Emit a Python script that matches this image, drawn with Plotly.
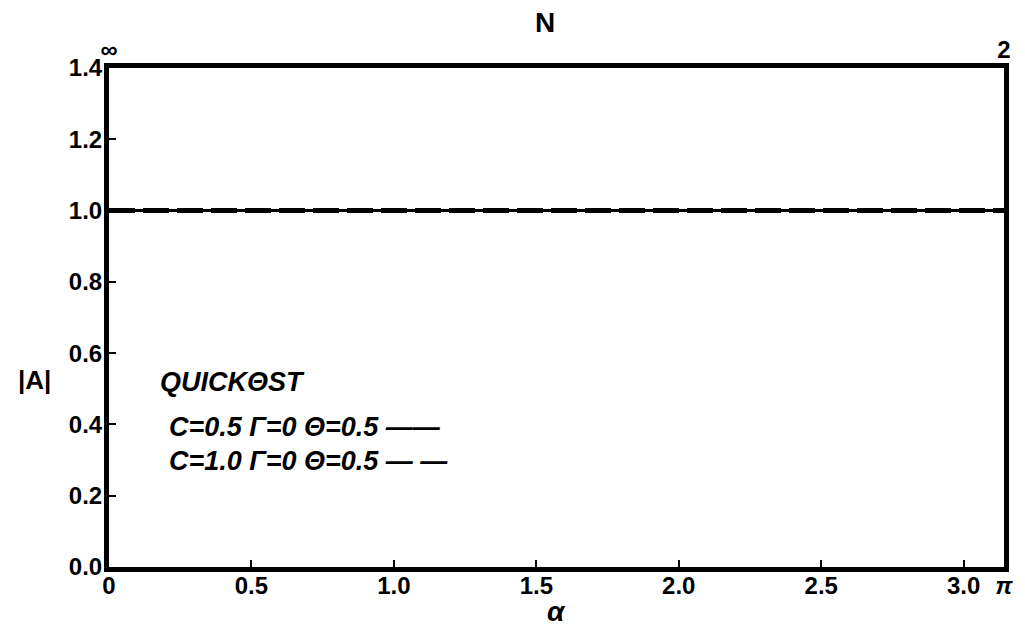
import numpy as np
import plotly.graph_objects as go

# wavenumber alpha from 0 to pi
alpha = [0.0, 0.25, 0.5, 0.75, 1.0, 1.25, 1.5, 1.75, 2.0, 2.25, 2.5, 2.75, 3.0, 3.14159]
# amplification factor magnitude
amp_c05 = [1.0] * len(alpha)
amp_c10 = [1.0] * len(alpha)

x_ticks = [0, 0.5, 1.0, 1.5, 2.0, 2.5, 3.0, np.pi]
x_labels = ["0", "0.5", "1.0", "1.5", "2.0", "2.5", "3.0", "<i>π</i>"]
y_ticks = [0.0, 0.2, 0.4, 0.6, 0.8, 1.0, 1.2, 1.4]
y_labels = ["0.0", "0.2", "0.4", "0.6", "0.8", "1.0", "1.2", "1.4"]
top_ticks = [0, np.pi]
top_labels = ["∞", "2"]

FONT = "Liberation Sans, Arial, sans-serif"
TICKFONT = dict(family=FONT, size=24, color="black", weight="bold")

fig = go.Figure()
fig.add_trace(go.Scatter(x=alpha, y=amp_c05, mode="lines",
                         line=dict(color="black", width=3), showlegend=False))
fig.add_trace(go.Scatter(x=alpha, y=amp_c10, mode="lines",
                         line=dict(color="black", width=5, dash="26px,8px"),
                         showlegend=False))
# invisible trace to carry the top N axis
fig.add_trace(go.Scatter(x=[0, np.pi], y=[None, None], xaxis="x2",
                         showlegend=False, hoverinfo="skip"))

fig.update_layout(
    width=1025, height=628,
    margin=dict(l=109, r=17, t=68, b=61),
    paper_bgcolor="white", plot_bgcolor="white",
    font=dict(family=FONT, size=20, color="black"),
    xaxis=dict(range=[0, np.pi], tickvals=x_ticks, ticktext=x_labels,
               tickfont=TICKFONT, ticklabelstandoff=-7,
               ticks="inside", ticklen=7, tickwidth=2, tickcolor="black",
               showgrid=False, zeroline=False, showline=True, linewidth=5,
               linecolor="black", mirror=False),
    xaxis2=dict(range=[0, np.pi], overlaying="x", side="top",
                tickvals=top_ticks, ticktext=top_labels, ticks="",
                tickfont=TICKFONT, ticklabelstandoff=-5,
                showgrid=False, zeroline=False, showline=True, linewidth=5,
                linecolor="black"),
    yaxis=dict(range=[0, 1.4], tickvals=y_ticks, ticktext=y_labels,
               tickfont=TICKFONT, ticklabelstandoff=-3,
               ticks="inside", ticklen=7, tickwidth=2, tickcolor="black",
               showgrid=False, zeroline=False, showline=True, linewidth=5,
               linecolor="black", mirror=True),
)

# axis titles
fig.add_annotation(text="<i>α</i>", xref="paper", yref="paper", x=0.5, y=-0.122,
                   yanchor="bottom", showarrow=False, borderpad=0,
                   font=dict(size=28, weight="bold"))
fig.add_annotation(text="N", xref="paper", yref="paper", x=0.487, y=1.092,
                   yanchor="middle", showarrow=False,
                   font=dict(size=28, weight="bold"))
fig.add_annotation(text="|A|", xref="paper", yref="paper", x=-0.083, y=0.375,
                   showarrow=False, font=dict(size=26, weight="bold"),
                   xanchor="center")

legend_lines = [
    ("<i>QUICKΘST</i>", 0.37, 0.055),
    ("<i>C=0.5 Γ=0 Θ=0.5 ——</i>", 0.28, 0.065),
    ("<i>C=1.0 Γ=0 Θ=0.5 — —</i>", 0.212, 0.065),
]
for txt, yy, xx in legend_lines:
    fig.add_annotation(text=txt, xref="paper", yref="paper", x=xx, y=yy,
                       xanchor="left", yanchor="middle", showarrow=False,
                       font=dict(size=27, weight="bold"))

fig.write_html("out.html")
